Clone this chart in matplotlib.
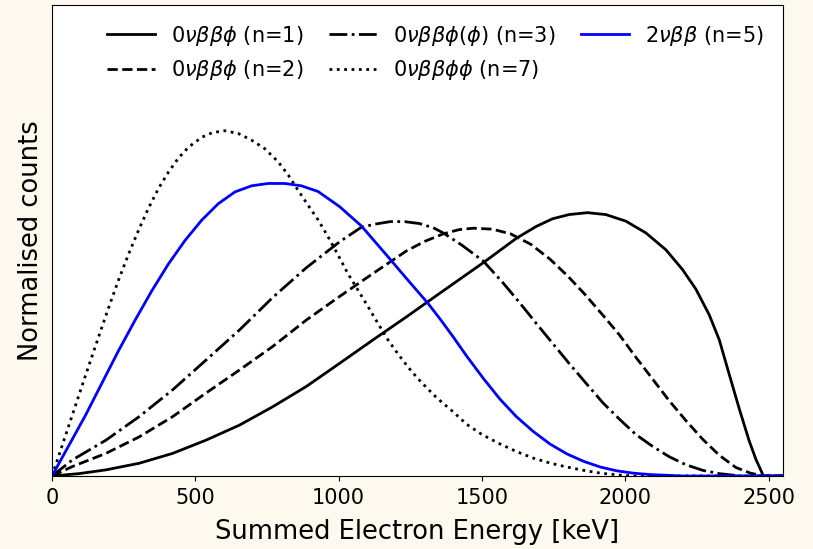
import numpy as np
from matplotlib import pyplot as plt

# Energies [keV] and normalised counts, one pair per curve
e_n1 = [0, 94, 188, 304, 421, 537, 654, 770, 887, 1003, 1120, 1237, 1353, 1505,
        1621, 1690, 1746, 1804, 1868, 1932, 2002, 2072, 2142, 2200, 2246, 2293,
        2328, 2363, 2398, 2432, 2456, 2482, 2550]
c_n1 = [0, 0.005, 0.013, 0.027, 0.048, 0.076, 0.108, 0.147, 0.190, 0.239, 0.289,
        0.338, 0.388, 0.453, 0.505, 0.530, 0.546, 0.555, 0.559, 0.555, 0.541,
        0.516, 0.480, 0.438, 0.397, 0.342, 0.289, 0.215, 0.142, 0.075, 0.035,
        0.0, 0.0]

e_n2 = [0, 71, 188, 304, 421, 537, 654, 770, 887, 1003, 1120, 1237, 1300, 1365,
        1420, 1470, 1537, 1600, 1670, 1738, 1800, 1860, 1921, 1979, 2037, 2095,
        2153, 2211, 2270, 2328, 2386, 2437, 2483, 2550]
c_n2 = [0, 0.020, 0.048, 0.083, 0.126, 0.176, 0.225, 0.275, 0.331, 0.381, 0.430,
        0.478, 0.498, 0.514, 0.523, 0.526, 0.524, 0.514, 0.492, 0.460, 0.424,
        0.385, 0.342, 0.300, 0.252, 0.206, 0.160, 0.118, 0.078, 0.044, 0.018,
        0.006, 0.0, 0.0]

e_n3 = [0, 71, 188, 304, 421, 537, 654, 770, 887, 1003, 1079, 1130, 1180, 1230,
        1281, 1330, 1365, 1430, 1505, 1572, 1630, 1688, 1746, 1804, 1863, 1921,
        1979, 2037, 2095, 2153, 2211, 2270, 2328, 2402, 2550]
c_n3 = [0, 0.034, 0.076, 0.126, 0.183, 0.246, 0.310, 0.379, 0.442, 0.497, 0.528,
        0.535, 0.540, 0.540, 0.536, 0.527, 0.516, 0.490, 0.456, 0.411, 0.369,
        0.325, 0.282, 0.239, 0.197, 0.156, 0.121, 0.088, 0.063, 0.041, 0.024,
        0.012, 0.005, 0.0, 0.0]

e_n5 = [0, 58, 116, 174, 232, 290, 348, 406, 464, 522, 580, 638, 696, 754, 812,
        870, 928, 1003, 1079, 1177, 1237, 1311, 1353, 1400, 1446, 1505, 1563,
        1620, 1678, 1737, 1796, 1855, 1913, 1970, 2028, 2087, 2200, 2550]
c_n5 = [0, 0.064, 0.128, 0.197, 0.266, 0.331, 0.393, 0.450, 0.500, 0.543, 0.578,
        0.603, 0.616, 0.621, 0.621, 0.616, 0.604, 0.572, 0.531, 0.462, 0.419,
        0.367, 0.334, 0.295, 0.255, 0.207, 0.163, 0.126, 0.095, 0.068, 0.047,
        0.031, 0.019, 0.011, 0.006, 0.003, 0.0, 0.0]

e_n7 = [0, 29, 58, 87, 116, 145, 174, 203, 232, 267, 302, 336, 371, 406, 441,
        476, 522, 560, 603, 650, 696, 742, 789, 824, 858, 893, 928, 963, 998,
        1032, 1067, 1102, 1137, 1172, 1206, 1241, 1276, 1311, 1342, 1400, 1446,
        1500, 1563, 1620, 1678, 1740, 1796, 1863, 1913, 1979, 2028, 2550]
c_n7 = [0, 0.053, 0.106, 0.159, 0.212, 0.264, 0.316, 0.367, 0.416, 0.471, 0.522,
        0.568, 0.610, 0.645, 0.675, 0.698, 0.719, 0.729, 0.733, 0.727, 0.713,
        0.695, 0.667, 0.639, 0.607, 0.575, 0.544, 0.508, 0.469, 0.430, 0.395,
        0.360, 0.324, 0.289, 0.260, 0.232, 0.207, 0.185, 0.166, 0.136, 0.110,
        0.088, 0.068, 0.052, 0.038, 0.027, 0.019, 0.011, 0.006, 0.002, 0.0, 0.0]

labels = [r'$0\nu\beta\beta\phi$ (n=1)', r'$0\nu\beta\beta\phi$ (n=2)',
          r'$0\nu\beta\beta\phi(\phi)$ (n=3)', r'$0\nu\beta\beta\phi\phi$ (n=7)',
          r'$2\nu\beta\beta$ (n=5)']

plt.rcParams['font.size'] = 15

fig = plt.figure(figsize=(8.13, 5.49), dpi=100, facecolor='#fdf9ee')
ax = fig.add_axes([0.064, 0.133, 0.899, 0.858])
ax.set_facecolor('white')

# legend fills column by column, so n=7 goes before n=5
ax.plot(e_n1, c_n1, color='black', ls='-', lw=2, label=labels[0])
ax.plot(e_n2, c_n2, color='black', ls='--', lw=2, label=labels[1])
ax.plot(e_n3, c_n3, color='black', ls='-.', lw=2, label=labels[2])
ax.plot(e_n7, c_n7, color='black', ls=':', lw=2, label=labels[3])
ax.plot(e_n5, c_n5, color='blue', ls='-', lw=2, label=labels[4])

ax.set_xlim(0, 2550)
ax.set_ylim(0, 1.0)
ax.set_yticks([])
ax.set_xticks([0, 500, 1000, 1500, 2000, 2500])
ax.tick_params(axis='x', labelsize=15, pad=5)
ax.set_xlabel('Summed Electron Energy [keV]', fontsize=18.5, labelpad=8)
ax.set_ylabel('Normalised counts', fontsize=18.5, labelpad=6)

ax.legend(loc='upper right', ncol=3, frameon=False, fontsize=15,
          columnspacing=1.2, handlelength=2.3)

fig.savefig('out.png', dpi=100, facecolor=fig.get_facecolor())
